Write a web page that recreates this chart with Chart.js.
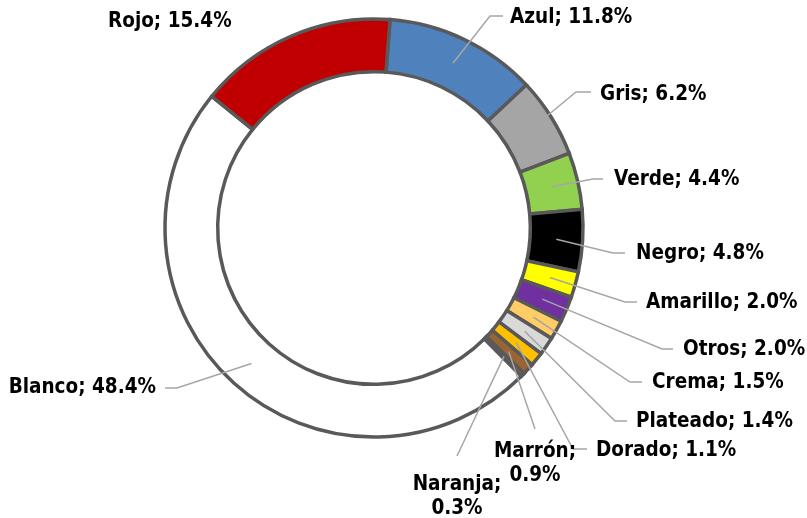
<!DOCTYPE html>
<html>
<head>
<meta charset="utf-8">
<script src="https://cdn.jsdelivr.net/npm/chart.js@4/dist/chart.umd.min.js"></script>
<style>
  html, body { margin: 0; padding: 0; background: #fff; }
  canvas { display: block; }
</style>
</head>
<body>
<canvas id="chart" width="807" height="518"></canvas>
<script>
// color share per category, clockwise from top
const categories = ['Azul', 'Gris', 'Verde', 'Negro', 'Amarillo', 'Otros', 'Crema',
  'Plateado', 'Dorado', 'Marrón', 'Naranja', 'Blanco', 'Rojo'];
const shares = [11.8, 6.2, 4.4, 4.8, 2.0, 2.0, 1.5, 1.4, 1.1, 0.9, 0.3, 48.4, 15.4];
const sliceColors = ['#4F81BD', '#A5A5A5', '#92D050', '#000000', '#FFFF00', '#7030A0', '#FFCC66',
  '#D9D9D9', '#FFC000', '#996633', '#E46C0A', '#FFFFFF', '#C00000'];

// where each data label sits: text anchor (x, y), alignment, leader end (ex, ey), elbow x (bx)
const labelLayout = [
  { x: 510, y: 18, align: 'left', ex: 503, ey: 16, bx: 490 },
  { x: 600, y: 95, align: 'left', ex: 591, ey: 92, bx: 576 },
  { x: 614, y: 180, align: 'left', ex: 603, ey: 179, bx: 593 },
  { x: 636, y: 254, align: 'left', ex: 625, ey: 253, bx: 613 },
  { x: 646, y: 303, align: 'left', ex: 637, ey: 302, bx: 625 },
  { x: 683, y: 350, align: 'left', ex: 673, ey: 349, bx: 662 },
  { x: 652, y: 383, align: 'left', ex: 642, ey: 382, bx: 630 },
  { x: 636, y: 422, align: 'left', ex: 627, ey: 421, bx: 615 },
  { x: 596, y: 451, align: 'left', ex: 587, ey: 449, bx: 573 },
  { x: 535, y: 452, align: 'center', ex: 535, ey: 429, wrap: true },
  { x: 457, y: 485, align: 'center', ex: 457, ey: 456, wrap: true },
  { x: 156, y: 388, align: 'right', ex: 165, ey: 388, bx: 177 },
  { x: 108, y: 22, align: 'left', noLine: true }
];

// draws Excel-like data labels with leader lines
const labelPlugin = {
  id: 'sliceLabels',
  afterDatasetsDraw(chart) {
    const ctx = chart.ctx;
    const arcs = chart.getDatasetMeta(0).data;
    ctx.save();
    arcs.forEach((arc, i) => {
      const pos = labelLayout[i];
      if (!pos.noLine) {
        const c = arc.getCenterPoint();
        ctx.beginPath();
        ctx.moveTo(c.x, c.y);
        if (pos.bx !== undefined) ctx.lineTo(pos.bx, pos.ey);
        ctx.lineTo(pos.ex, pos.ey);
        ctx.strokeStyle = '#A6A6A6';
        ctx.lineWidth = 1.5;
        ctx.stroke();
      }
      ctx.fillStyle = '#000';
      ctx.font = 'bold 20.5px "DejaVu Sans Condensed", "DejaVu Sans"';
      ctx.textBaseline = 'middle';
      ctx.textAlign = pos.align;
      const pct = shares[i].toFixed(1) + '%';
      if (pos.wrap) {
        ctx.fillText(categories[i] + ';', pos.x, pos.y);
        ctx.fillText(pct, pos.x, pos.y + 24);
      } else {
        ctx.fillText(categories[i] + '; ' + pct, pos.x, pos.y);
      }
    });
    ctx.restore();
  }
};

new Chart(document.getElementById('chart'), {
  type: 'doughnut',
  data: {
    labels: categories,
    datasets: [{
      data: shares,
      backgroundColor: sliceColors,
      borderColor: '#595959',
      borderWidth: 3.5,
      borderJoinStyle: 'miter'
    }]
  },
  options: {
    responsive: false,
    animation: false,
    devicePixelRatio: 1,
    rotation: 4.4,
    radius: 209,
    cutout: '74.8%',
    layout: { padding: { left: 0, right: 59, top: 0, bottom: 62 } },
    plugins: {
      legend: { display: false },
      tooltip: { enabled: false }
    }
  },
  plugins: [labelPlugin]
});
</script>
</body>
</html>
